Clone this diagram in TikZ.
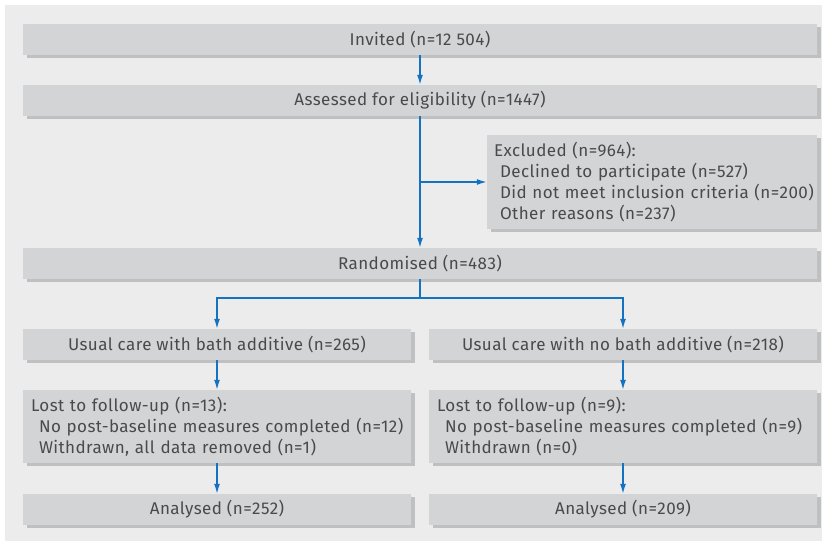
\documentclass[tikz,border=0pt]{standalone}
\usepackage{fontspec}
\setmainfont{Fira Sans}[LetterSpace=2.5]
\usepackage{tikz}
\usetikzlibrary{arrows.meta}
\usetikzlibrary{shadows}
\definecolor{bggray}{HTML}{ECECEC}
\definecolor{boxgray}{HTML}{D3D4D6}
\definecolor{shadegray}{HTML}{BFC0C2}
\definecolor{txtgray}{HTML}{4A4A4C}
\definecolor{flowblue}{HTML}{1472C0}
\tikzset{>={Latex[length=10pt, width=6pt]}}
\tikzset{
    stage/.style={fill=boxgray, text=txtgray, inner xsep=8pt, inner ysep=0pt,
        minimum height=31pt, font=\fontsize{17}{21}\selectfont,
        drop shadow={shadow xshift=4pt, shadow yshift=-3pt, fill=shadegray, opacity=1}},
    wide/.style={stage, minimum width=794pt},
    half/.style={stage, minimum width=388pt},
    list/.style={stage, align=left, text width=#1},
    flow/.style={draw=flowblue, line width=1.4pt}
}
\newcommand{\sub}{\hspace*{8pt}}

\begin{document}
\begin{tikzpicture}[x=1pt, y=-1pt]
    \useasboundingbox(0, 0) rectangle (826, 541);
    \fill[bggray](5, 5) rectangle (822, 541);
    % top
    \node[wide](inv)at(420, 39.5) {Invited (n=12 504)};
    \node[wide](ass)at(420, 100.5) {Assessed for eligibility (n=1447)};
    \node[list=320pt, inner xsep=5pt, minimum height=94pt](exc)at(652, 182) {\hspace*{2pt}Excluded (n=964):\\
        \sub Declined to participate (n=527)\\
        \sub Did not meet inclusion criteria (n=200)\\
        \sub Other reasons (n=237)};
    \node[wide](rnd)at(420, 263.5) {Randomised (n=483)};
    % arms
    \node[half](uc1)at(217, 344.5) {Usual care with bath additive (n=265)};
    \node[half](uc2)at(623, 344.5) {Usual care with no bath additive (n=218)};
    \node[list=372pt, minimum height=73pt](lost1)at(217, 426.5) {Lost to follow-up (n=13):\\
        \sub No post-baseline measures completed (n=12)\\
        \sub Withdrawn, all data removed (n=1)};
    \node[list=372pt, minimum height=73pt](lost2)at(623, 426.5) {Lost to follow-up (n=9):\\
        \sub No post-baseline measures completed (n=9)\\
        \sub Withdrawn (n=0)};
    \node[half](an1)at(217, 509.5) {Analysed (n=252)};
    \node[half](an2)at(623, 509.5) {Analysed (n=209)};
    % connectors
    \coordinate(split)at(ass.south|-exc.west);
    \coordinate(fork)at(420, 298);
    \draw[flow, ->](inv)--(ass);
    \draw[flow, ->](ass)--(rnd);
    \draw[flow, ->](split)--(exc.west);
    \draw[flow](rnd.south)--(fork);
    \draw[flow, ->](fork)-|(uc1.north);
    \draw[flow, ->](fork)-|(uc2.north);
    \draw[flow, ->](uc1)--(lost1);
    \draw[flow, ->](uc2)--(lost2);
    \draw[flow, ->](lost1)--(an1);
    \draw[flow, ->](lost2)--(an2);
\end{tikzpicture}
\end{document}
